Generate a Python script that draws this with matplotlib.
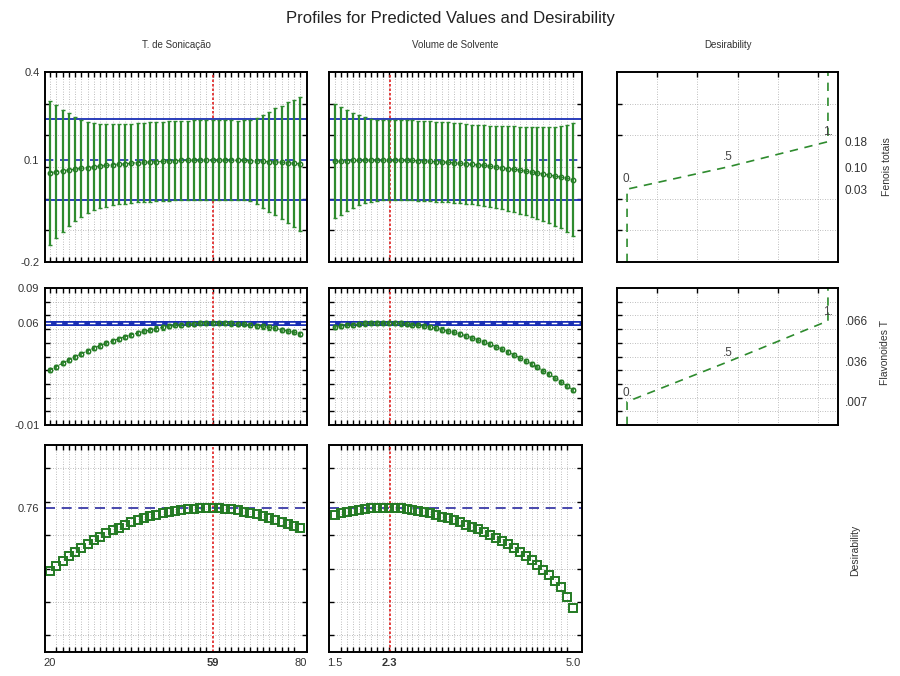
import numpy as np
import matplotlib
matplotlib.use('Agg')
import matplotlib.pyplot as plt

plt.rcParams['font.family'] = ['Liberation Sans', 'DejaVu Sans']

# factor grids and current settings
son = np.linspace(20, 80, 41)
vol = np.linspace(1.5, 5.0, 41)
son_cur = 59
vol_cur = 2.3

# Fenois totais: predicted values and half-width of the intervals
fen_son = [0.082, 0.085, 0.088, 0.091, 0.093, 0.096, 0.098, 0.101, 0.103, 0.105,
           0.107, 0.109, 0.110, 0.112, 0.114, 0.115, 0.116, 0.117, 0.118, 0.119,
           0.120, 0.121, 0.121, 0.122, 0.122, 0.122, 0.122, 0.122, 0.122, 0.122,
           0.121, 0.121, 0.120, 0.119, 0.118, 0.117, 0.116, 0.115, 0.114, 0.112, 0.110]
fen_son_err = [0.228, 0.210, 0.192, 0.178, 0.165, 0.153, 0.144, 0.138, 0.133, 0.130,
               0.128, 0.127, 0.126, 0.125, 0.125, 0.125, 0.125, 0.125, 0.125, 0.125,
               0.125, 0.125, 0.125, 0.125, 0.125, 0.125, 0.125, 0.125, 0.125, 0.125,
               0.125, 0.126, 0.128, 0.135, 0.146, 0.158, 0.169, 0.178, 0.190, 0.200, 0.212]
fen_vol = [0.118, 0.119, 0.120, 0.121, 0.121, 0.122, 0.122, 0.122, 0.122, 0.122,
           0.122, 0.122, 0.121, 0.121, 0.120, 0.119, 0.118, 0.117, 0.116, 0.115,
           0.113, 0.112, 0.110, 0.108, 0.107, 0.105, 0.102, 0.100, 0.098, 0.095,
           0.093, 0.090, 0.087, 0.084, 0.081, 0.078, 0.075, 0.071, 0.068, 0.064, 0.060]
fen_vol_err = [0.180, 0.170, 0.160, 0.150, 0.142, 0.136, 0.131, 0.128, 0.126, 0.126,
               0.126, 0.126, 0.126, 0.126, 0.126, 0.126, 0.126, 0.126, 0.126, 0.126,
               0.126, 0.126, 0.126, 0.126, 0.127, 0.128, 0.129, 0.130, 0.131, 0.133,
               0.135, 0.137, 0.139, 0.141, 0.144, 0.147, 0.151, 0.156, 0.162, 0.170, 0.179]
fen_pred, fen_lo, fen_hi = 0.122, -0.004, 0.252

# Flavonoides T
flav_son = [0.0300, 0.0326, 0.0351, 0.0375, 0.0398, 0.0420, 0.0441, 0.0461, 0.0480, 0.0497,
            0.0514, 0.0530, 0.0545, 0.0559, 0.0571, 0.0583, 0.0594, 0.0604, 0.0612, 0.0620,
            0.0627, 0.0632, 0.0637, 0.0640, 0.0643, 0.0645, 0.0645, 0.0645, 0.0643, 0.0641,
            0.0639, 0.0635, 0.0630, 0.0625, 0.0619, 0.0612, 0.0605, 0.0596, 0.0587, 0.0577, 0.0566]
flav_vol = [0.0614, 0.0622, 0.0628, 0.0633, 0.0637, 0.0641, 0.0643, 0.0644, 0.0645, 0.0644,
            0.0643, 0.0641, 0.0637, 0.0633, 0.0628, 0.0622, 0.0614, 0.0606, 0.0597, 0.0587,
            0.0576, 0.0564, 0.0551, 0.0537, 0.0522, 0.0507, 0.0490, 0.0472, 0.0454, 0.0434,
            0.0413, 0.0392, 0.0369, 0.0346, 0.0321, 0.0296, 0.0270, 0.0243, 0.0214, 0.0185, 0.0155]
flav_err = 0.0015
flav_pred, flav_lo, flav_hi = 0.0642, 0.0623, 0.0661

# overall desirability
des_son = [0.384, 0.415, 0.445, 0.473, 0.499, 0.524, 0.547, 0.569, 0.590, 0.610,
           0.628, 0.645, 0.661, 0.676, 0.690, 0.702, 0.713, 0.723, 0.732, 0.740,
           0.746, 0.752, 0.756, 0.759, 0.761, 0.762, 0.762, 0.761, 0.758, 0.754,
           0.748, 0.741, 0.733, 0.724, 0.714, 0.703, 0.691, 0.679, 0.666, 0.653, 0.640]
des_vol = [0.722, 0.731, 0.739, 0.746, 0.752, 0.757, 0.760, 0.762, 0.762, 0.762,
           0.762, 0.760, 0.756, 0.751, 0.745, 0.738, 0.730, 0.721, 0.711, 0.700,
           0.688, 0.676, 0.663, 0.649, 0.634, 0.618, 0.601, 0.583, 0.564, 0.544,
           0.523, 0.500, 0.476, 0.450, 0.423, 0.393, 0.361, 0.326, 0.287, 0.232, 0.165]
des_max = 0.762

# desirability functions of each response
d_levels = [0, 0.5, 1]
d_names = ['0.', '.5', '1.']
fen_levels = [0.03, 0.10, 0.18]
flav_levels = [0.007, 0.036, 0.066]

GREEN = '#237a23'
BAR = '#2e8b2e'
BLUE = '#1a2fb5'
RED = '#e02020'
GRID = '#a8a8a8'

W, H = 900, 676
fig = plt.figure(figsize=(9, 6.76), dpi=100)


def rect(x0, y0, x1, y1):
    return [x0 / W, 1 - y1 / H, (x1 - x0) / W, (y1 - y0) / H]


cols = [(45, 307), (329, 582), (617, 838)]
rows = [(72, 262), (288, 425), (445, 652)]
ylims = [(-0.2, 0.4), (-0.01, 0.09), (-0.1, 1.14)]
ygrids = [np.arange(-0.1, 0.35, 0.1), np.arange(0.0, 0.085, 0.01), np.arange(0.0, 1.05, 0.2)]
xlims = [(18.8, 81.6), (1.41, 5.13)]
xs = [son, vol]
curs = [son_cur, vol_cur]


def make_ax(c, r, xlim, xgrid):
    ax = fig.add_axes(rect(cols[c][0], rows[r][0], cols[c][1], rows[r][1]))
    ax.set_xlim(xlim)
    ax.set_ylim(ylims[r])
    ax.set_xticks([])
    ax.set_yticks([])
    ax.set_xticks(xgrid, minor=True)
    ax.set_yticks(ygrids[r], minor=True)
    ax.tick_params(which='minor', direction='in', top=True, bottom=True,
                   left=True, right=True, length=3.5, width=1.0)
    ax.tick_params(which='major', length=0, labelsize=8, colors='#333333', pad=4)
    ax.grid(which='minor', ls=(0, (1, 2)), color=GRID, lw=0.6)
    for s in ax.spines.values():
        s.set_linewidth(1.4)
    ax.set_axisbelow(True)
    return ax


# profile panels
for c in range(2):
    x = xs[c]
    # row 1: Fenois totais
    ax = make_ax(c, 0, xlims[c], x)
    ax.axvline(curs[c], color=RED, ls=(0, (1.5, 1.2)), lw=1.2)
    ax.axhline(fen_hi, color=BLUE, lw=1.3)
    ax.axhline(fen_lo, color=BLUE, lw=1.3)
    ax.axhline(fen_pred, color=BLUE, lw=1.2, ls=(0, (5, 4)))
    y = fen_son if c == 0 else fen_vol
    e = fen_son_err if c == 0 else fen_vol_err
    ax.errorbar(x, y, yerr=e, fmt='--o', ms=3.2, mfc='none', mec=GREEN, color=GREEN,
                lw=0.7, ecolor=BAR, elinewidth=1.6, capsize=1.2, capthick=1)
    if c == 0:
        ax.set_yticks([-0.2, fen_pred, 0.4], ['-0.2', f'{fen_pred:.1f}', '0.4'])

    # row 2: Flavonoides T
    ax = make_ax(c, 1, xlims[c], x)
    ax.axvline(curs[c], color=RED, ls=(0, (1.5, 1.2)), lw=1.2)
    ax.axhspan(flav_lo, flav_hi, color=BLUE, lw=0)
    ax.axhline(flav_pred, color='white', lw=1.0, ls=(0, (4, 4)))
    y = flav_son if c == 0 else flav_vol
    ax.errorbar(x, y, yerr=flav_err, fmt='--o', ms=3.2, mfc='none', mec=GREEN, color=GREEN,
                lw=0.7, ecolor=BAR, elinewidth=1.3, capsize=1.2, capthick=1)
    if c == 0:
        ax.set_yticks([-0.01, flav_pred, 0.09], ['-0.01', f'{flav_pred:.2f}', '0.09'])

    # row 3: desirability
    ax = make_ax(c, 2, xlims[c], x)
    ax.axvline(curs[c], color=RED, ls=(0, (1.5, 1.2)), lw=1.2)
    ax.axhline(des_max, color='#2a2aa0', lw=1.2, ls=(0, (6, 4)))
    y = des_son if c == 0 else des_vol
    ax.plot(x, y, 's', ms=5.5, mfc='none', mec=GREEN, mew=1.4)
    if c == 0:
        ax.set_yticks([des_max], [f'{des_max:.2f}'])
        ax.set_xticks([20, son_cur, 80], ['20', str(son_cur), '80'])
    else:
        ax.set_xticks([1.5, vol_cur, 5.0], ['1.5', f'{vol_cur:.1f}', '5.0'])
    ax.get_xticklabels()[1].set_fontweight('bold')

# desirability function panels
dgrid = [0.15, 0.35, 0.55, 0.75, 0.95]
for r, lv in enumerate([fen_levels, flav_levels]):
    ax = make_ax(2, r, (-0.05, 1.05), dgrid)
    lo, hi = ylims[r]
    dx = [d_levels[0]] + d_levels + [d_levels[-1]]
    dy = [lo] + lv + [hi]
    ax.plot(dx, dy, color=BAR, lw=1.2, ls=(0, (5, 4)))
    off = (hi - lo) * 0.02
    for d, v, t in zip(d_levels, lv, d_names):
        ax.text(d, v + off, t, ha='center', va='bottom', fontsize=8.5, color='#444444')
    ax.yaxis.tick_right()
    ax.set_yticks(lv, [f'{v:.2f}' if r == 0 else f'{v:.3f}'[1:] for v in lv])
    ax.tick_params(which='minor', left=True, right=False, top=True, bottom=False)
    ax.tick_params(which='major', length=0, labelsize=8.5, pad=5)

# titles and response names
fig.text(0.5, 1 - 18 / H, 'Profiles for Predicted Values and Desirability',
         ha='center', va='center', fontsize=12, color='#222222')
for xc, t in [(176, 'T. de Sonicação'), (455, 'Volume de Solvente'), (728, 'Desirability')]:
    fig.text(xc / W, 1 - 45 / H, t, ha='center', va='center', fontsize=7, color='#333333')
for xc, yc, t in [(887, 167, 'Fenois totais'), (885, 353, 'Flavonoides T'),
                  (855, 550, 'Desirability')]:
    fig.text(xc / W, 1 - yc / H, t, ha='center', va='center', rotation=90,
             fontsize=7.5, color='#333333')

fig.savefig('out.png', dpi=100)
